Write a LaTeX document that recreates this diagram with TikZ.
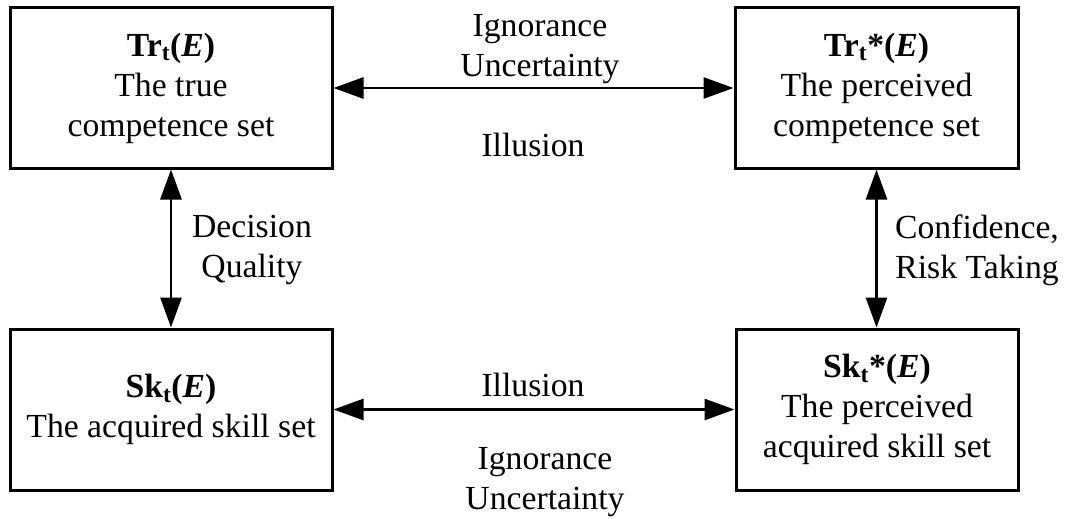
\documentclass[tikz,border=0pt]{standalone}
\usepackage{fontspec}
\setmainfont{Liberation Serif}
\usetikzlibrary{arrows.meta}
\begin{document}
\begin{tikzpicture}[x=1pt,y=-1pt,
  every node/.style={font=\fontsize{33.7}{40}\selectfont, align=center, inner sep=0pt},
  box/.style={draw, line width=3pt, rectangle},
  lbl/.style={},
  conn/.style={line width=2.8pt, {Triangle[length=30pt,width=21pt]}-{Triangle[length=30pt,width=21pt]}}]
\useasboundingbox (0,0) rectangle (1066,519);
\node[box, minimum width=322pt, minimum height=160pt] (tl) at (171,88)
  {\textbf{Tr\textsubscript{t}(\textit{E})}\\The true\\competence set};
\node[box, minimum width=283pt, minimum height=160pt] (tr) at (876.5,88)
  {\textbf{Tr\textsubscript{t}*(\textit{E})}\\The perceived\\competence set};
\node[box, minimum width=322pt, minimum height=161pt] (bl) at (171,409.5)
  {\textbf{Sk\textsubscript{t}(\textit{E})}\\The acquired skill set};
\node[box, minimum width=282pt, minimum height=161pt] (br) at (877,409.5)
  {\textbf{Sk\textsubscript{t}*(\textit{E})}\\The perceived\\acquired skill set};
\draw[conn] (tl.east) -- (tr.west);
\draw[conn] (bl.east) -- (br.west);
\draw[conn] (tl.south) -- (bl.north);
\draw[conn] (tr.south) -- (tr.south |- br.north);
\node[lbl] (t1) at (540,49) {Ignorance\\Uncertainty};
\node[lbl] (t2) at (533,145) {Illusion};
\node[lbl] (l1) at (252,250) {Decision\\Quality};
\node[lbl] (r1) at (977,250) {Confidence,\\Risk Taking};
\node[lbl] (b1) at (533,385) {Illusion};
\node[lbl] (b2) at (545,482) {Ignorance\\Uncertainty};
\end{tikzpicture}
\end{document}
